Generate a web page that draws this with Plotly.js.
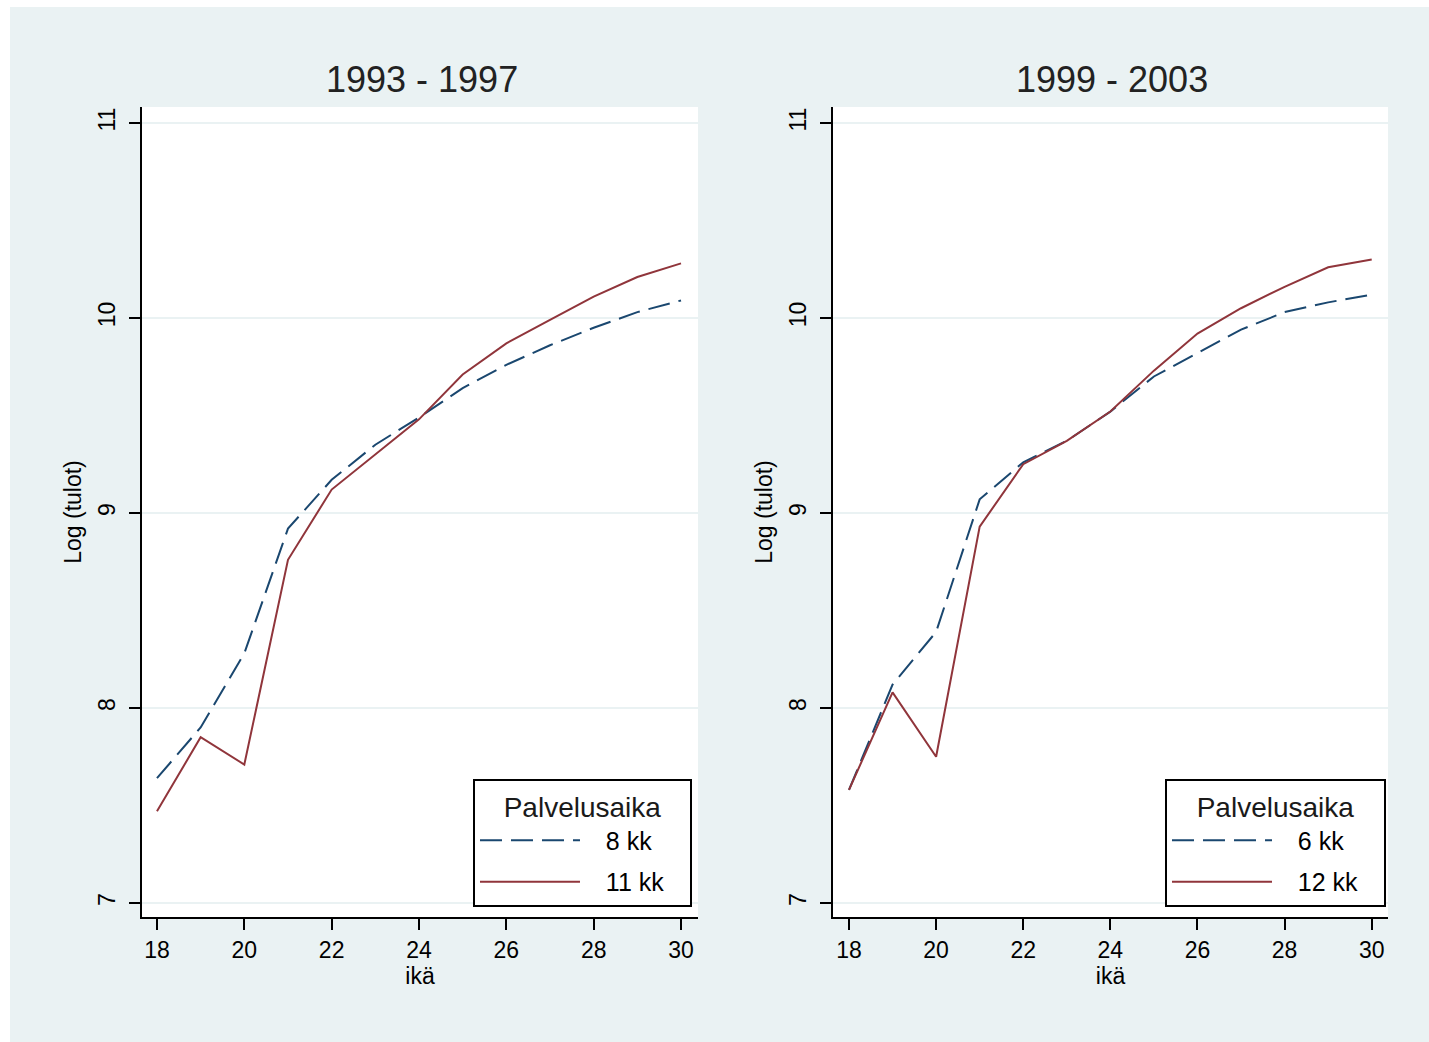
<!DOCTYPE html>
<html>
<head>
<meta charset="utf-8">
<script src="https://cdn.plot.ly/plotly-3.0.1.min.js"></script>
<style>
  html, body { margin: 0; padding: 0; background: #ffffff; }
  #chart { position: absolute; left: 10px; top: 7px; width: 1419px; height: 1035px; }
</style>
</head>
<body>
<div id="chart"></div>
<script>
// ---- data ----
const ages = [18, 19, 20, 21, 22, 23, 24, 25, 26, 27, 28, 29, 30];

// Panel 1: 1993 - 1997
const p1Title = "1993 - 1997";
const p1ShortName = "8 kk";
const p1LongName = "11 kk";
const p1Short = [7.64, 7.90, 8.28, 8.92, 9.17, 9.35, 9.49, 9.64, 9.76, 9.86, 9.95, 10.03, 10.09];
const p1Long  = [7.47, 7.85, 7.71, 8.76, 9.12, 9.30, 9.48, 9.71, 9.87, 9.99, 10.11, 10.21, 10.28];

// Panel 2: 1999 - 2003
const p2Title = "1999 - 2003";
const p2ShortName = "6 kk";
const p2LongName = "12 kk";
const p2Short = [7.58, 8.12, 8.39, 9.07, 9.26, 9.37, 9.52, 9.70, 9.82, 9.94, 10.03, 10.08, 10.12];
const p2Long  = [7.58, 8.08, 7.75, 8.93, 9.25, 9.37, 9.52, 9.73, 9.92, 10.05, 10.16, 10.26, 10.30];

const xTicks = [18, 20, 22, 24, 26, 28, 30];
const yTicks = [7, 8, 9, 10, 11];
const xTitle = "ikä";
const yTitle = "Log (tulot)";
const legendTitle = "Palvelusaika";

// ---- styles ----
const FONT = "Arial, 'Liberation Sans', sans-serif";
const NAVY = "#1a476f";
const MAROON = "#90353b";
const BG = "#eaf2f3";
const PADL = "\u00a0\u00a0\u00a0";
const PADR = "\u00a0\u00a0\u00a0";
const label = s => PADL + s + PADR;

const traces = [
  {x: ages, y: p1Short, name: label(p1ShortName), xaxis: "x", yaxis: "y", legend: "legend", legendgroup: "a",
   mode: "lines", line: {color: NAVY, width: 2, dash: "22px,9px"}},
  {x: ages, y: p1Long, name: label(p1LongName), xaxis: "x", yaxis: "y", legend: "legend", legendgroup: "b",
   mode: "lines", line: {color: MAROON, width: 2}},
  {x: ages, y: p2Short, name: label(p2ShortName), xaxis: "x2", yaxis: "y2", legend: "legend2", legendgroup: "c",
   mode: "lines", line: {color: NAVY, width: 2, dash: "22px,9px"}},
  {x: ages, y: p2Long, name: label(p2LongName), xaxis: "x2", yaxis: "y2", legend: "legend2", legendgroup: "d",
   mode: "lines", line: {color: MAROON, width: 2}}
];

function xAxis(domain, range) {
  return {
    domain: domain, range: range, tickvals: xTicks, ticks: "outside", ticklen: 11, tickwidth: 2,
    tickcolor: "#000", showline: true, linecolor: "#000", linewidth: 2, showgrid: false, zeroline: false,
    tickfont: {family: FONT, size: 23, color: "#000"},
    title: {text: xTitle, font: {family: FONT, size: 23, color: "#000"}, standoff: 0},
    fixedrange: true
  };
}
function yAxis(anchor) {
  return {
    domain: [0.12077, 0.90338], range: [6.928, 11.082], anchor: anchor, tickvals: yTicks,
    ticks: "outside", ticklen: 11, tickwidth: 2, tickcolor: "#000", tickangle: -90, ticklabelstandoff: 5,
    showline: true, linecolor: "#000", linewidth: 2, showgrid: true, gridcolor: BG, gridwidth: 2,
    zeroline: false, tickfont: {family: FONT, size: 23, color: "#000"},
    title: {text: yTitle, font: {family: FONT, size: 23, color: "#000"}, standoff: 6},
    fixedrange: true
  };
}
function legendCfg(x) {
  return {
    x: x, y: 0.25411, xanchor: "left", yanchor: "top",
    bgcolor: "#ffffff", bordercolor: "#000", borderwidth: 2,
    font: {family: FONT, size: 25, color: "#000"},
    title: {text: legendTitle, side: "top center", font: {family: FONT, size: 28, color: "#1a1a1a"}},
    itemwidth: 100, traceorder: "grouped", tracegroupgap: 6
  };
}

const layout = {
  width: 1419, height: 1035,
  paper_bgcolor: BG, plot_bgcolor: "#ffffff",
  margin: {l: 0, r: 0, t: 0, b: 0},
  showlegend: true,
  xaxis: xAxis([0.09302, 0.48485], [17.657, 30.389]),
  yaxis: yAxis("x"),
  xaxis2: xAxis([0.57999, 0.97111], [17.633, 30.374]),
  yaxis2: yAxis("x2"),
  legend: legendCfg(0.32628),
  legend2: legendCfg(0.81395),
  annotations: [
    {text: p1Title, xref: "paper", yref: "paper", x: 0.29035, y: 0.92947, xanchor: "center", yanchor: "middle",
     showarrow: false, font: {family: FONT, size: 36, color: "#222"}},
    {text: p2Title, xref: "paper", yref: "paper", x: 0.77660, y: 0.92947, xanchor: "center", yanchor: "middle",
     showarrow: false, font: {family: FONT, size: 36, color: "#222"}}
  ]
};

Plotly.newPlot("chart", traces, layout, {displayModeBar: false, staticPlot: true});
</script>
</body>
</html>
